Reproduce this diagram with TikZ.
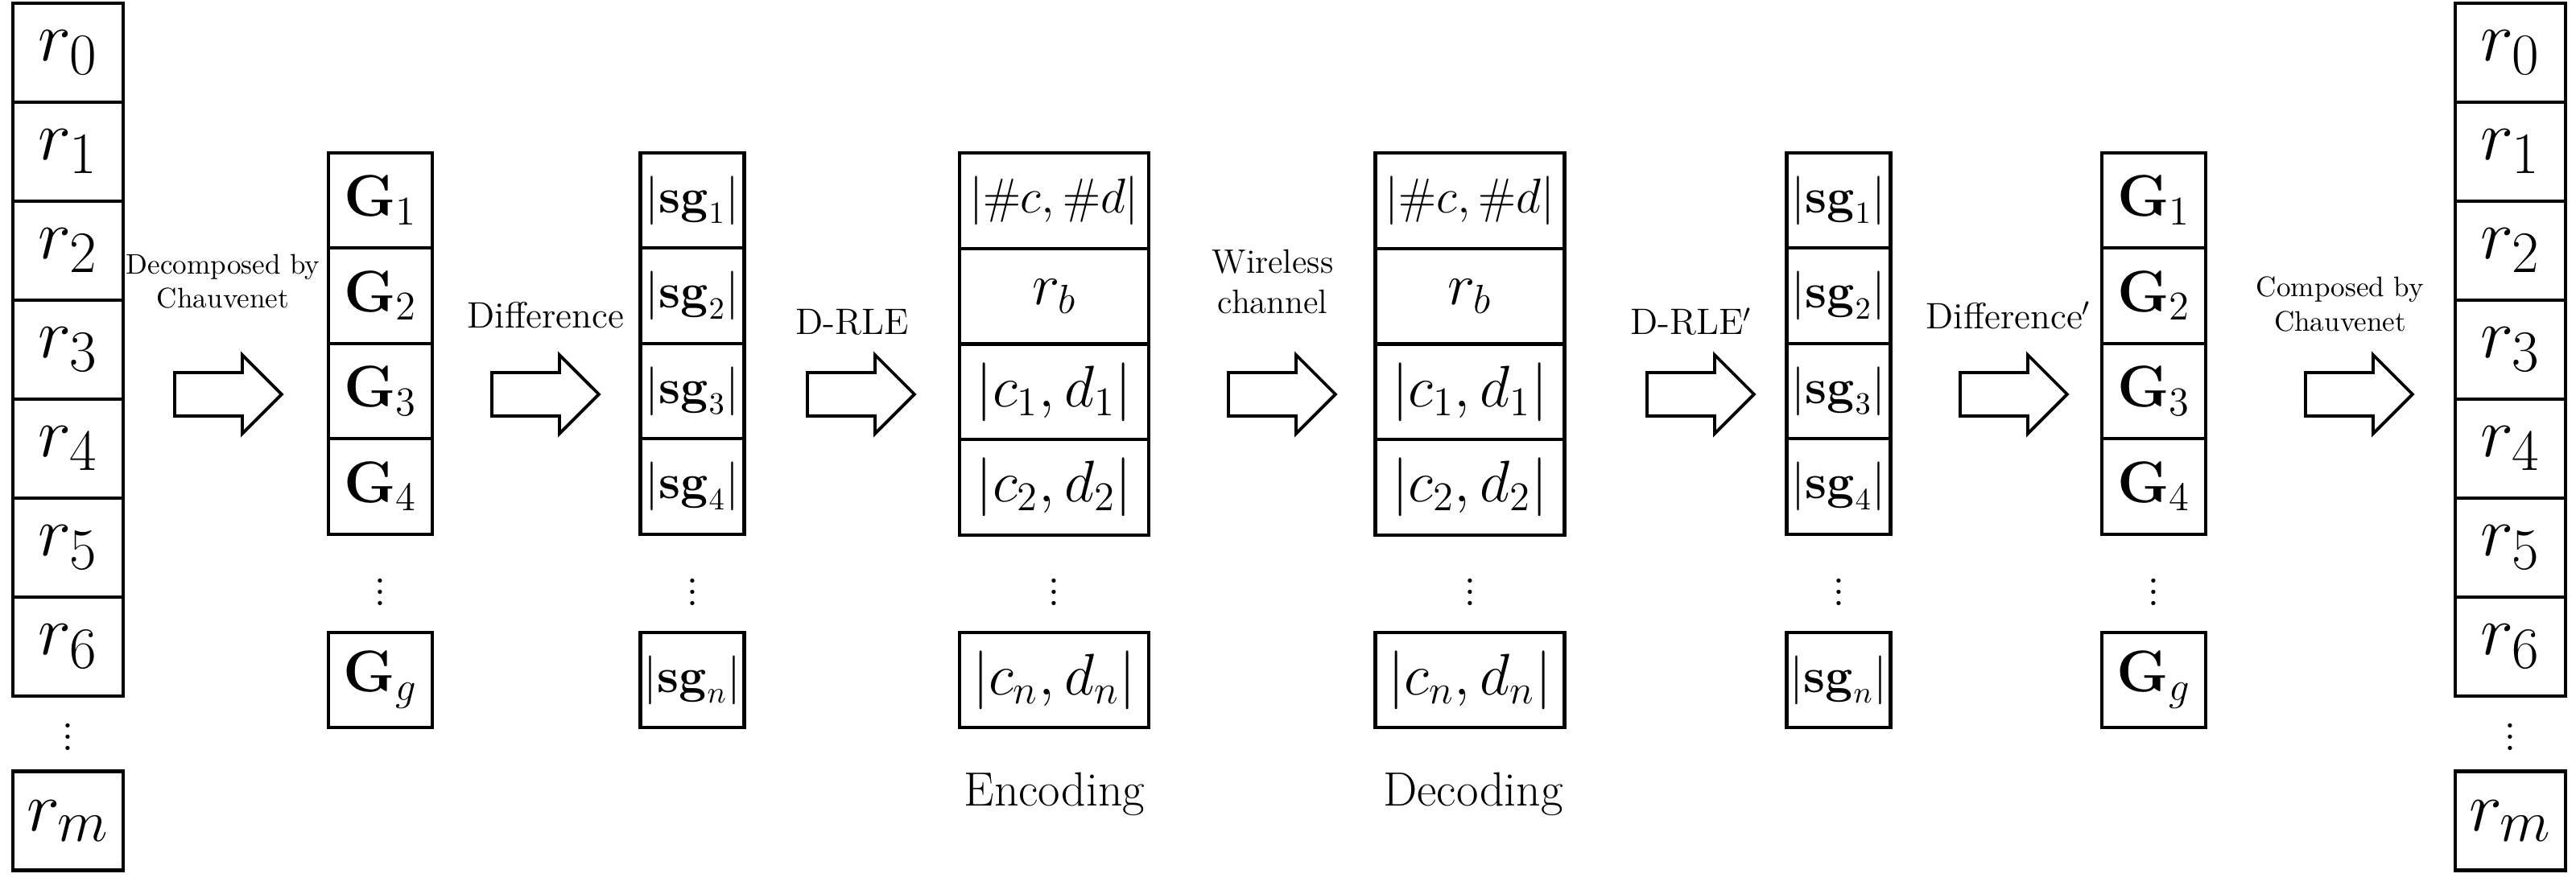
\documentclass[tikz,border=0pt]{standalone}
\usepackage{amsmath,amssymb}
\usepackage{tikz}
\usetikzlibrary{shapes.arrows,positioning}

\begin{document}
\begin{tikzpicture}[
    cell/.style={rectangle, draw, line width=1.2pt, inner sep=0pt, minimum height=1.2cm},
    rcell/.style={cell, minimum width=1.37cm, minimum height=1.23cm, font=\fontsize{30}{32}\selectfont},
    gcell/.style={cell, minimum width=1.29cm, minimum height=1.185cm, font=\fontsize{22}{24}\selectfont},
    scell/.style={cell, minimum width=1.29cm, minimum height=1.185cm, font=\fontsize{16}{18}\selectfont},
    ecell/.style={cell, minimum width=2.35cm, minimum height=1.1875cm, font=\fontsize{22}{24}\selectfont},
    bigarrow/.style={single arrow, draw, line width=1.1pt, minimum height=1.33cm, minimum width=0.95cm,
        single arrow head extend=0.22cm, inner sep=0.25cm},
    lbl/.style={font=\fontsize{13}{15}\selectfont, align=center},
    small/.style={font=\fontsize{10}{12}\selectfont, align=center, inner sep=0pt},
    dots/.style={font=\fontsize{18}{18}\selectfont}
]
    \useasboundingbox (0,0) rectangle (32,-11.01);

    % input and output rows
    \foreach \side/\x in {in/0.845,out/31.185} {
        \foreach \k in {0,...,6}
            \node[rcell] (\side\k) at (\x,{-0.655-1.23*\k}) {$r_{\k}$};
        \node[rcell] (\side m) at (\x,-10.2) {$r_m$};
        \node[dots] at (\x,-9.05) {$\vdots$};
    }

    % groups
    \foreach \side/\x in {gl/4.725,gr/26.755} {
        \foreach \k in {1,...,4}
            \node[gcell] (\side\k) at (\x,{-2.49-1.185*(\k-1)}) {$\mathbf{G}_{\k}$};
        \node[gcell] (\side g) at (\x,-8.45) {$\mathbf{G}_g$};
        \node[dots] at (\x,-7.25) {$\vdots$};
    }

    % subgroup sizes
    \foreach \side/\x in {sl/8.60,sr/22.84} {
        \foreach \k in {1,...,4}
            \node[scell] (\side\k) at (\x,{-2.49-1.185*(\k-1)}) {$|\mathbf{sg}_{\k}|$};
        \node[scell] (\side n) at (\x,-8.45) {$|\mathbf{sg}_n|$};
        \node[dots] at (\x,-7.25) {$\vdots$};
    }

    % encoded and decoded streams
    \foreach \side/\x in {enc/13.095,dec/18.26} {
        \node[ecell, font=\fontsize{19}{21}\selectfont] (\side0) at (\x,-2.494) {$|\#c,\#d|$};
        \node[ecell] (\side b) at (\x,-3.681) {$r_b$};
        \node[ecell] (\side1) at (\x,-4.869) {$|c_1,d_1|$};
        \node[ecell] (\side2) at (\x,-6.056) {$|c_2,d_2|$};
        \node[ecell] (\side n) at (\x,-8.45) {$|c_n,d_n|$};
        \node[dots] at (\x,-7.25) {$\vdots$};
    }
    \node[lbl, font=\fontsize{17}{19}\selectfont] (encl) at (13.1,-9.87) {Encoding};
    \node[lbl, font=\fontsize{17}{19}\selectfont] (decl) at (18.3,-9.87) {Decoding};

    % steps
    \node[bigarrow] (a1) at (2.70,-4.9) {};
    \node[bigarrow] (a2) at (6.64,-4.9) {};
    \node[bigarrow] (a3) at (10.56,-4.9) {};
    \node[bigarrow] (a4) at (15.79,-4.9) {};
    \node[bigarrow] (a5) at (20.99,-4.9) {};
    \node[bigarrow] (a6) at (24.88,-4.9) {};
    \node[bigarrow] (a7) at (29.17,-4.9) {};

    \node[small] at (2.77,-3.5) {Decomposed by\\Chauvenet};
    \node[lbl] at (6.78,-3.92) {Difference};
    \node[lbl] at (10.59,-4.0) {D-RLE};
    \node[lbl, font=\fontsize{12}{14}\selectfont] at (15.81,-3.5) {Wireless\\channel};
    \node[lbl] at (21.01,-4.0) {D-RLE$'$};
    \node[lbl] at (24.95,-3.92) {Difference$'$};
    \node[small] at (29.07,-3.78) {Composed by\\Chauvenet};
\end{tikzpicture}
\end{document}
